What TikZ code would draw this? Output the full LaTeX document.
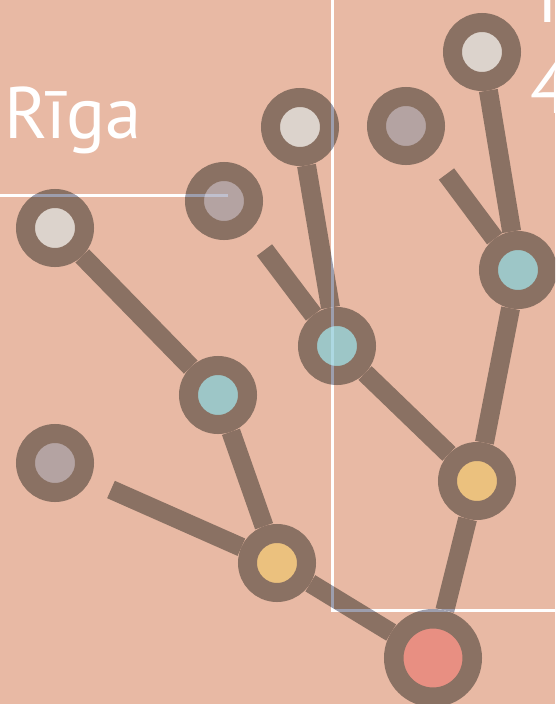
\documentclass[tikz,border=0pt]{standalone}
\usepackage{fontspec}
\setmainfont{PT Sans}
\definecolor{bgc}{RGB}{232,185,164}
\definecolor{bark}{RGB}{138,113,99}
\definecolor{palec}{RGB}{220,211,204}
\definecolor{mauvec}{RGB}{180,163,162}
\definecolor{tealc}{RGB}{157,198,199}
\definecolor{goldc}{RGB}{235,193,126}
\definecolor{coralc}{RGB}{232,143,130}
\definecolor{tintc}{RGB}{40,80,120}
\pgfdeclarelayer{base}
\pgfdeclarelayer{edges}
\pgfdeclarelayer{top}
\pgfsetlayers{base,edges,main,top}
\tikzset{
  leaf/.style={circle, inner sep=0pt, minimum size=59pt, draw=bark, line width=19pt, fill=#1},
  rootnode/.style={circle, inner sep=0pt, minimum size=78.5pt, draw=bark, line width=19.5pt, fill=coralc},
  branch/.style={draw=bark, line width=19pt},
  guide/.style={draw=white, line width=3pt},
  label/.style={text=white, font=\fontsize{73}{80}\selectfont, inner sep=0pt}
}
\begin{document}
\begin{tikzpicture}[x=1pt,y=-1pt]
\useasboundingbox (0,0) rectangle (555,704);
\clip (0,0) rectangle (555,704);
% nodes
\node[leaf=palec]  (n1)  at (55,228) {};
\node[leaf=mauvec] (n2)  at (224,201) {};
\node[leaf=palec]  (n3)  at (300,127) {};
\node[leaf=mauvec] (n4)  at (406,126) {};
\node[leaf=palec]  (n5)  at (482,52) {};
\node[leaf=tealc]  (n6)  at (518,270) {};
\node[leaf=tealc]  (n7)  at (337,346) {};
\node[leaf=tealc]  (n8)  at (218,395) {};
\node[leaf=mauvec] (n9)  at (55,463) {};
\node[leaf=goldc]  (n10) at (277,563) {};
\node[leaf=goldc]  (n11) at (477,481) {};
\node[rootnode]    (n12) at (433,658) {};
% free stub ends
\coordinate (s1) at (111,489.5);
\coordinate (s2) at (264.5,250);
\coordinate (s3) at (446.5,174);
% guide lines
\coordinate (g1) at (0,195);
\coordinate (g2) at (228,195);
\coordinate (g3) at (332,-2);
\coordinate (g4) at (332,610);
\coordinate (g5) at (557,610);
\begin{pgfonlayer}{base}
  \fill[bgc] (0,0) rectangle (555,704);
  \draw[guide] (g1) -- (g2);
  \draw[guide] (g3) -- (g4) -- (g5);
\end{pgfonlayer}
\begin{pgfonlayer}{edges}
  \draw[branch] (n1) -- (n8);
  \draw[branch] (n8) -- (n10);
  \draw[branch] (s1) -- (n10);
  \draw[branch] (n10) -- (n12);
  \draw[branch] (n3) -- (n7);
  \draw[branch] (s2) -- (n7);
  \draw[branch] (n7) -- (n11);
  \draw[branch] (n11) -- (n12);
  \draw[branch] (n11) -- (n6);
  \draw[branch] (n5) -- (n6);
  \draw[branch] (s3) -- (n6);
\end{pgfonlayer}
\begin{pgfonlayer}{top}
  \begin{scope}[blend mode=screen]
    \draw[guide, draw=tintc] (g1) -- (g2);
    \draw[guide, draw=tintc] (g3) -- (g4) -- (g5);
  \end{scope}
  \node[label, anchor=base west] (riga) at (4,138) {Rīga};
  \node[label, anchor=base] (tt) at (548,23) {T};
  \node[label, anchor=base west] (four) at (530,113) {4};
\end{pgfonlayer}
\end{tikzpicture}
\end{document}
